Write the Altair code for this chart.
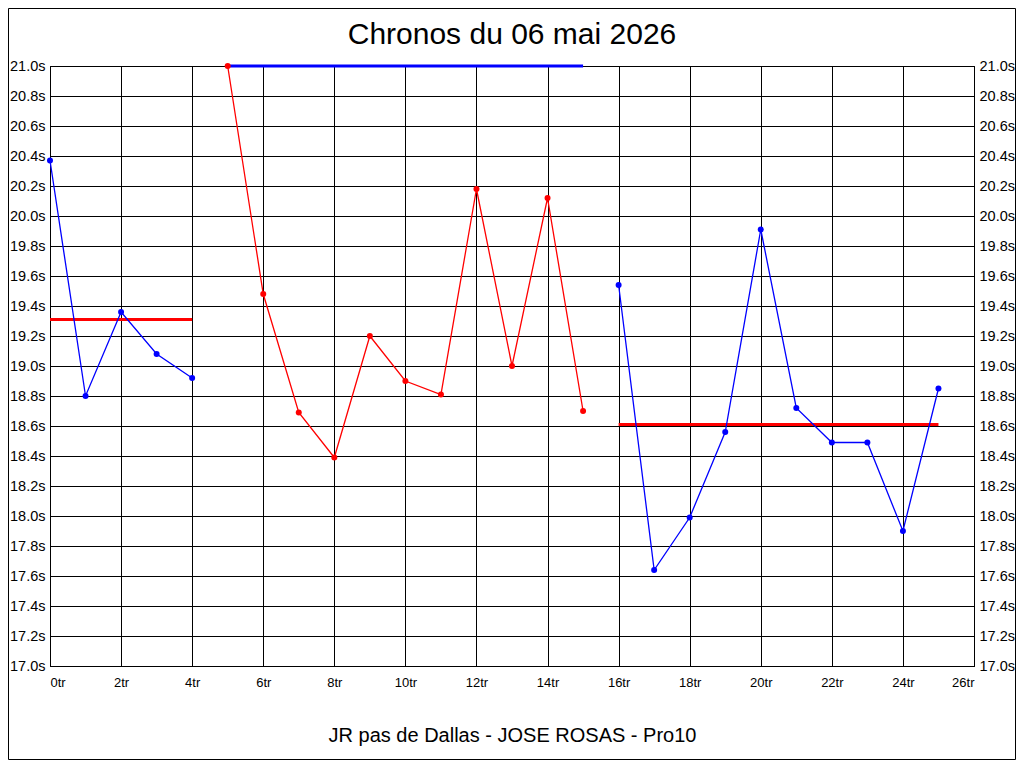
import altair as alt
import pandas as pd

# ---- data ----
laps = list(range(26))
times = [20.37, 18.80, 19.36, 19.08, 18.92,
         21.00, 19.48, 18.69, 18.39, 19.20, 18.90, 18.81, 20.18, 19.00, 20.12, 18.70,
         19.54, 17.64, 17.99, 18.56, 19.91, 18.72, 18.49, 18.49, 17.90, 18.85]
segment = [1] * 5 + [2] * 11 + [3] * 10
segment_colors = {1: "#0000ff", 2: "#ff0000", 3: "#0000ff"}

mean_segment = [1, 2, 3]
mean_start = [0, 5, 16]
mean_end = [4, 15, 25]
mean_value = [19.31, 21.00, 18.61]
mean_color = ["#ff0000", "#0000ff", "#ff0000"]

x_ticks = [0, 2, 4, 6, 8, 10, 12, 14, 16, 18, 20, 22, 24, 26]
y_ticks = [17.0, 17.2, 17.4, 17.6, 17.8, 18.0, 18.2, 18.4, 18.6, 18.8, 19.0,
           19.2, 19.4, 19.6, 19.8, 20.0, 20.2, 20.4, 20.6, 20.8, 21.0]

title_text = "Chronos du 06 mai 2026"
caption_text = "JR pas de Dallas - JOSE ROSAS - Pro10"

df = pd.DataFrame({
    "lap": laps,
    "time": times,
    "segment": segment,
    "color": [segment_colors[s] for s in segment],
})
means = pd.DataFrame({
    "segment": mean_segment,
    "start": mean_start,
    "end": mean_end,
    "mean": mean_value,
    "color": mean_color,
})

FONT = "Liberation Sans"
W, H = 924, 600

xscale = alt.Scale(domain=[0, 26], nice=False, zero=False)
yscale = alt.Scale(domain=[17, 21], nice=False, zero=False)

x_axis = alt.Axis(values=x_ticks, labelExpr="datum.value + 'tr'", grid=True,
                  gridColor="black", gridOpacity=1, gridWidth=1, ticks=False,
                  domainColor="black", labelFont=FONT, labelFontSize=13,
                  labelColor="black", labelPadding=10, title=caption_text,
                  titleFont=FONT, titleFontSize=20, titleFontWeight="normal",
                  titleColor="black", titlePadding=36)

y_axis_left = alt.Axis(values=y_ticks, labelExpr="format(datum.value, '.1f') + 's'",
                       grid=True, gridColor="black", gridOpacity=1, gridWidth=1,
                       ticks=False, domainColor="black", labelFont=FONT,
                       labelFontSize=14.5, labelColor="black", labelPadding=5,
                       title=None, orient="left")
y_axis_right = alt.Axis(values=y_ticks, labelExpr="format(datum.value, '.1f') + 's'",
                        grid=False, ticks=False, domainColor="black", labelFont=FONT,
                        labelFontSize=14.5, labelColor="black", labelPadding=5,
                        title=None, orient="right")

rules = alt.Chart(means).mark_rule(strokeWidth=3).encode(
    x=alt.X("start:Q", scale=xscale, axis=x_axis),
    x2="end:Q",
    y=alt.Y("mean:Q", scale=yscale, axis=y_axis_right),
    color=alt.Color("color:N", scale=None),
)

lines = alt.Chart(df).mark_line(strokeWidth=1.3).encode(
    x=alt.X("lap:Q", scale=xscale),
    y=alt.Y("time:Q", scale=yscale, axis=y_axis_left),
    detail="segment:N",
    color=alt.Color("color:N", scale=None),
)

points = alt.Chart(df).mark_circle(size=36, opacity=1).encode(
    x=alt.X("lap:Q", scale=xscale),
    y=alt.Y("time:Q", scale=yscale, axis=None),
    color=alt.Color("color:N", scale=None),
)

frame = alt.Chart(pd.DataFrame({"f": [0]})).mark_rect(
    fill=None, stroke="black", strokeWidth=1
).encode(
    x=alt.value(-41.5), x2=alt.value(965.5),
    y=alt.value(-57.5), y2=alt.value(693.5),
)

chart = alt.layer(rules, lines, points, frame).resolve_scale(
    y="independent"
).properties(
    width=W,
    height=H,
    autosize=alt.AutoSizeParams(type="none"),
    padding={"left": 42, "top": 58, "right": 42, "bottom": 94},
    title=alt.TitleParams(title_text, font=FONT, fontSize=30, fontWeight="normal",
                          color="black", anchor="middle", offset=18, dy=60,
                          frame="group"),
    background="white",
).configure_view(stroke="black", strokeWidth=1)

chart.save("out.html", embed_options={"renderer": "svg", "actions": False})
